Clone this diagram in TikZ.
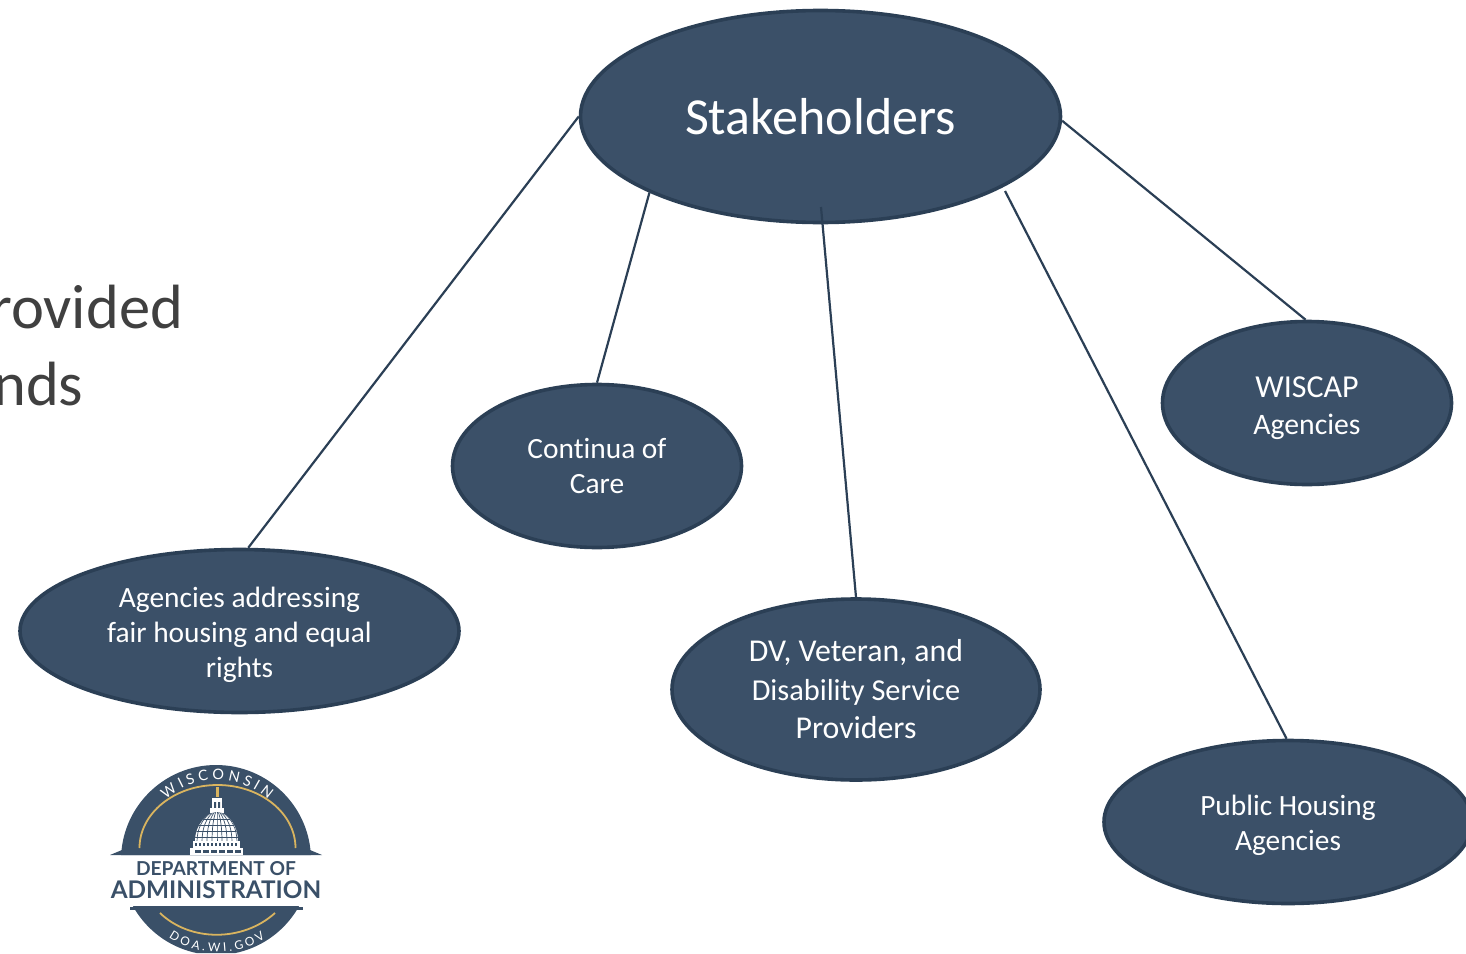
\documentclass[tikz,border=0pt]{standalone}
\usepackage{fontspec}
\setmainfont{Carlito}[Ligatures=NoCommon]
\newfontfamily\logofont{Lato}
\usetikzlibrary{shapes.geometric,decorations.text}
\definecolor{bub}{HTML}{3B5068}
\definecolor{bubedge}{HTML}{2B3F55}
\definecolor{gold}{HTML}{D9B45F}
\definecolor{bodytxt}{HTML}{404040}
\definecolor{logoblue}{HTML}{3A5068}
\tikzset{
  bubble/.style={ellipse,draw=bubedge,fill=bub,line width=3.6pt,inner sep=0pt,text=white,align=center,font=\fontsize{29.4}{35}\selectfont},
  link/.style={draw=bubedge,line width=2.2pt},
  bodyline/.style={text=bodytxt,anchor=base west,inner sep=0pt,font=\fontsize{62.5}{70}\selectfont},
  goldarc/.style={draw=gold,line width=1.8pt},
}
\begin{document}
\begin{tikzpicture}[x=1pt,y=-1pt]
\useasboundingbox (0,0) rectangle (1466,953);
\clip (0,0) rectangle (1466,953);
\fill[white] (0,0) rectangle (1466,953);
% clipped body text
\node[bodyline] (t1) at (-10,328) {rovided};
\node[bodyline] (t2) at (-7,405) {nds};
% bubbles
\node[bubble,minimum width=480pt,minimum height=212pt,font=\fontsize{52}{60}\selectfont] (s) at (820.5,116.5) {Stakeholders};
\node[bubble,minimum width=289pt,minimum height=163pt] (c) at (597,466) {Continua of\\Care};
\node[bubble,minimum width=439pt,minimum height=163pt] (a) at (239.5,631) {\rule{0pt}{28pt}Agencies addressing\\fair housing and equal\\rights};
\node[bubble,minimum width=368pt,minimum height=181pt,font=\fontsize{31.8}{38.5}\selectfont] (d) at (856,689.5) {DV, Veteran, and\\{\fontsize{30.4}{38.5}\selectfont Disability Service}\\Providers};
\node[bubble,minimum width=289pt,minimum height=163pt,font=\fontsize{32}{37}\selectfont] (w) at (1307,403) {\rule{0pt}{32pt}WISCAP\\{\fontsize{29.7}{37}\selectfont Agencies}};
\node[bubble,minimum width=368pt,minimum height=163pt] (p) at (1288,822) {\rule{0pt}{28pt}Public Housing\\Agencies};
% connectors
\coordinate (sd) at (821,207);
\coordinate (sp) at (1005,191);
\draw[link] (s.180.4) -- (a.84);
\draw[link] (s.204) -- (c.north);
\draw[link] (sd) -- (d.north);
\draw[link] (sp) -- (p.91);
\draw[link] (s.359.6) -- (w.91);
% logo
\begin{scope}
  \clip (100,760) rectangle (330,855) (100,906) rectangle (330,953);
  \fill[logoblue] (216,860) circle (95);
  \fill[logoblue] (110,855) -- (122,850) -- (310,850) -- (322,855) -- cycle;
\end{scope}
\fill[logoblue] (130,907) rectangle (303,910);
\draw[goldarc] (139.5,848) arc[start angle=-180,end angle=0,x radius=78,y radius=63];
\draw[goldarc] (160,913) .. controls (190,942) and (243,942) .. (275,913);
% dome
\fill[gold] (215.5,787) rectangle (218.5,797);
\fill[white] (212,798) rectangle (222,810);
\fill[logoblue] (214,802) rectangle (216,809) (218,802) rectangle (220,809);
\fill[white] (210,808) rectangle (224,813);
\begin{scope}
  \clip (195,841) .. controls (195,825) and (207,812) .. (217,812) .. controls (227,812) and (238,825) .. (238,841) -- cycle;
  \fill[white] (190,808) rectangle (244,842);
  \foreach \k in {-4,...,4}
    \draw[logoblue,line width=.7pt] (217+\k*1.2,812) .. controls (217+\k*3.6,818) and (217+\k*5,828) .. (217+\k*5,842);
  \foreach \yy in {819,825,831,837}
    \draw[logoblue,line width=.7pt] (190,\yy) -- (244,\yy);
\end{scope}
\fill[white] (193,841) rectangle (240,848);
\fill[white] (190,848) rectangle (243,855);
\foreach \xx in {196,204,212,220,228,236}
  \fill[logoblue] (\xx-1,850) rectangle +(5.5,2.8);
\foreach \xx in {195,199,...,237}
  \fill[logoblue] (\xx,843) rectangle +(2,3);
% logo text
\node[text=logoblue,inner sep=0pt,font=\logofont\bfseries\fontsize{19.2}{19}\selectfont] (l1) at (216,869) {DEPARTMENT OF};
\node[text=logoblue,inner sep=0pt,font=\logofont\bfseries\fontsize{24.3}{25}\selectfont] (l2) at (216,890) {ADMINISTRATION};
\path[decorate,decoration={text along path,text align=center,text={|\logofont\fontsize{14.5}{14}\selectfont\color{white}|W I S C O N S I N}}]
  (158.8,807) .. controls (189.2,770.8) and (244.8,770.8) .. (275.2,807);
\path[decorate,decoration={text along path,text align=center,text={|\logofont\fontsize{12}{12}\selectfont\color{white}|D O A . W I . G O V}}]
  (168,937) .. controls (195,957) and (240,957) .. (266,937);
\end{tikzpicture}
\end{document}
